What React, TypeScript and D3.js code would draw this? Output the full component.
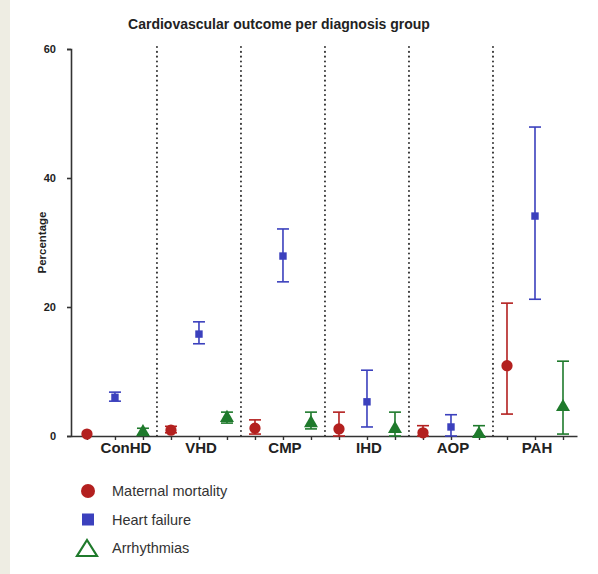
import * as d3 from 'd3';
import React, { useEffect, useRef } from 'react';

// groups on the x axis, each one holds three outcomes
const groups = ['ConHD', 'VHD', 'CMP', 'IHD', 'AOP', 'PAH'];
const outcomes = ['Maternal mortality', 'Heart failure', 'Arrhythmias'];
const outcomeColors = ['#b3201f', '#3b40bd', '#1f7a2c'];

// percentage values, one entry per group
const mortality = [0.3, 0.9, 1.2, 1.1, 0.5, 10.9];
const mortalityLow = [0.3, 0.5, 0.3, 0.0, 0.0, 3.4];
const mortalityHigh = [0.3, 1.5, 2.5, 3.7, 1.6, 20.6];

const heartFailure = [6.0, 15.8, 27.9, 5.3, 1.4, 34.1];
const heartFailureLow = [5.4, 14.3, 23.9, 1.4, 0.0, 21.2];
const heartFailureHigh = [6.8, 17.7, 32.1, 10.2, 3.3, 47.9];

const arrhythmias = [0.6, 2.8, 2.0, 1.1, 0.3, 4.5];
const arrhythmiasLow = [0.2, 2.0, 1.1, 0.0, 0.0, 0.3];
const arrhythmiasHigh = [1.2, 3.7, 3.7, 3.7, 1.6, 11.6];

const yTicks = [0, 20, 40, 60];

const W = 598;
const H = 574;
const FONT = '"Liberation Sans", Arial, sans-serif';

export default function App() {
    const svgRef = useRef<SVGSVGElement>(null);

    useEffect(() => {
        const svg = d3.select(svgRef.current);
        svg.selectAll('*').remove();

        // light strip on the left edge of the page
        svg.append('rect').attr('width', W).attr('height', H).attr('fill', '#fff');
        svg.append('rect').attr('width', 10).attr('height', H).attr('fill', '#eeede3');

        // x positions: 3 slots per group, index k = group*3 + outcome
        const x = d3.scaleLinear().domain([-0.57, 17.5]).range([71, 577]);
        const y = d3.scaleLinear().domain([0, 60]).range([436, 49]);

        svg.append('text')
            .attr('x', 279).attr('y', 29)
            .attr('text-anchor', 'middle')
            .attr('font-family', FONT).attr('font-weight', 'bold').attr('font-size', 14)
            .attr('fill', '#222')
            .text('Cardiovascular outcome per diagnosis group');

        // separators between groups
        for (let g = 1; g < groups.length; g++) {
            svg.append('line')
                .attr('x1', x(g * 3 - 0.5)).attr('x2', x(g * 3 - 0.5))
                .attr('y1', y(60) - 2).attr('y2', y(0))
                .attr('stroke', '#333').attr('stroke-width', 2)
                .attr('stroke-linecap', 'round')
                .attr('stroke-dasharray', '0.1 4.7');
        }

        // y axis
        const yAxis = svg.append('g')
            .attr('transform', `translate(${x.range()[0]},0)`)
            .call(d3.axisLeft(y).tickValues(yTicks).tickSize(4).tickSizeOuter(4).tickPadding(11));
        yAxis.select('.domain').attr('stroke', '#333').attr('stroke-width', 1.6);
        yAxis.selectAll('.tick line').attr('stroke', '#333').attr('stroke-width', 1.6);
        yAxis.selectAll('.tick text')
            .attr('font-family', FONT).attr('font-weight', 'bold').attr('font-size', 11).attr('fill', '#222');

        svg.append('text')
            .attr('transform', `translate(46,${y(30)}) rotate(-90)`)
            .attr('text-anchor', 'middle')
            .attr('font-family', FONT).attr('font-weight', 'bold').attr('font-size', 11.5)
            .attr('fill', '#222')
            .text('Percentage');

        // x axis with a tick under every slot
        const slots = d3.range(groups.length * 3);
        const xAxis = svg.append('g')
            .attr('transform', `translate(0,${y(0)})`)
            .call(d3.axisBottom(x).tickValues(slots).tickSize(4).tickSizeOuter(0).tickFormat(() => ''));
        xAxis.select('.domain').attr('stroke', '#333').attr('stroke-width', 1.6);
        xAxis.selectAll('.tick line').attr('stroke', '#333').attr('stroke-width', 1.4);

        svg.selectAll('.groupLabel')
            .data(groups)
            .join('text')
            .attr('class', 'groupLabel')
            .attr('x', (_, i) => x(i * 3 + 1) + (i === 0 ? 11 : 2))
            .attr('y', 453)
            .attr('text-anchor', 'middle')
            .attr('font-family', FONT).attr('font-weight', 'bold').attr('font-size', 15)
            .attr('fill', '#222')
            .text((d) => d);

        const series = [
            { vals: mortality, lo: mortalityLow, hi: mortalityHigh },
            { vals: heartFailure, lo: heartFailureLow, hi: heartFailureHigh },
            { vals: arrhythmias, lo: arrhythmiasLow, hi: arrhythmiasHigh },
        ];

        const symbols = [d3.symbolCircle, d3.symbolSquare, d3.symbolTriangle];
        const symbolSizes = [100, 55, 85];

        series.forEach((s, si) => {
            const color = outcomeColors[si];
            const g = svg.append('g');
            s.vals.forEach((v, gi) => {
                const cx = x(gi * 3 + si);
                const lo = s.lo[gi];
                const hi = s.hi[gi];
                if (hi > lo) {
                    g.append('line')
                        .attr('x1', cx).attr('x2', cx)
                        .attr('y1', y(hi)).attr('y2', y(lo))
                        .attr('stroke', color).attr('stroke-width', 1.6);
                    [lo, hi].forEach((c) => {
                        g.append('line')
                            .attr('x1', cx - 6).attr('x2', cx + 6)
                            .attr('y1', y(c)).attr('y2', y(c))
                            .attr('stroke', color).attr('stroke-width', 1.6);
                    });
                }
                g.append('path')
                    .attr('transform', `translate(${cx},${y(v)})`)
                    .attr('d', d3.symbol().type(symbols[si]).size(symbolSizes[si])())
                    .attr('fill', color);
            });
        });

        // legend
        const legend = svg.append('g');
        outcomes.forEach((name, i) => {
            const ly = 491 + i * 28.5;
            if (i === 0) {
                legend.append('circle').attr('cx', 88).attr('cy', ly).attr('r', 7).attr('fill', outcomeColors[0]);
            } else if (i === 1) {
                legend.append('rect').attr('x', 82).attr('y', ly - 6).attr('width', 12).attr('height', 12).attr('fill', outcomeColors[1]);
            } else {
                legend.append('path')
                    .attr('d', `M${87},${ly - 8} L${97},${ly + 8} L${77},${ly + 8} Z`)
                    .attr('fill', 'none').attr('stroke', outcomeColors[2]).attr('stroke-width', 2.2)
                    .attr('stroke-linejoin', 'miter');
            }
            legend.append('text')
                .attr('x', 112).attr('y', ly + 5)
                .attr('font-family', FONT).attr('font-size', 14.5)
                .attr('fill', '#333')
                .text(name);
        });
    }, []);

    return (
        <div style={{ position: 'absolute', left: 0, top: 0 }}>
            <svg ref={svgRef} width={W} height={H} style={{ display: 'block' }} />
        </div>
    );
}
